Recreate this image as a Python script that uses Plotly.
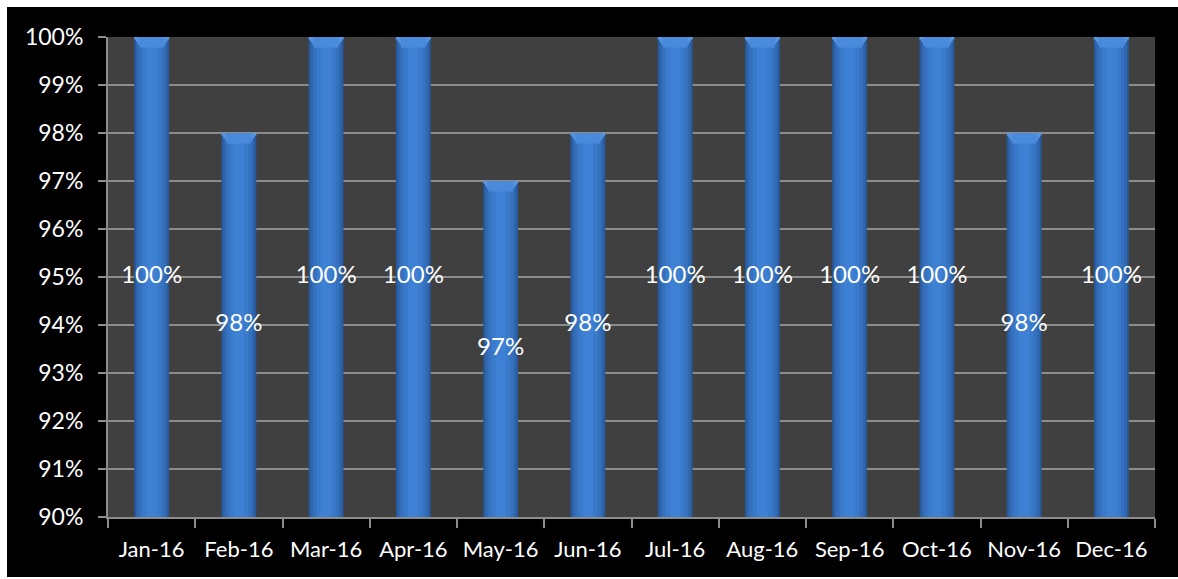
import plotly.graph_objects as go

months = ["Jan-16", "Feb-16", "Mar-16", "Apr-16", "May-16", "Jun-16",
          "Jul-16", "Aug-16", "Sep-16", "Oct-16", "Nov-16", "Dec-16"]
values = [100, 98, 100, 100, 97, 98, 100, 100, 100, 100, 98, 100]
y_ticks = list(range(90, 101))
y_tick_labels = [f"{t}%" for t in y_ticks]

Y_MIN, Y_MAX = 90, 100
FONT = "Lato"

fig = go.Figure()

# cylinder-like shading via overlaid bars of decreasing width
layers = [(0.40, "#27589a"), (0.36, "#2f66ae"), (0.30, "#3571bf"),
          (0.22, "#3a7aca"), (0.12, "#3e80d3")]
for w, c in layers:
    fig.add_trace(go.Bar(x=months, y=values, width=w, marker_color=c,
                         marker_line_width=0, hoverinfo="skip", showlegend=False))

# top bevel cap (stepped trapezoid)
for w, h, c in [(0.40, 0.05, "#5b9ae5"), (0.36, 0.10, "#5797e3"),
                (0.32, 0.16, "#5090df"), (0.28, 0.22, "#4a8adb")]:
    fig.add_trace(go.Bar(x=months, y=[h] * len(values),
                         base=[v - h for v in values], width=w,
                         marker_color=c, marker_line_width=0,
                         hoverinfo="skip", showlegend=False))

# value labels centred in each bar
fig.add_trace(go.Scatter(x=months, y=[(Y_MIN + v) / 2 for v in values],
                         mode="text", text=[f"{v}%" for v in values],
                         textfont=dict(family=FONT, size=24, color="white"),
                         hoverinfo="skip", showlegend=False))

fig.add_shape(type="rect", xref="paper", yref="paper",
              x0=0, x1=1, y0=0, y1=1,
              fillcolor="#404040", line_width=0, layer="below")

# figure placed at page offset (7, 7); plot area at page x 108..1155, y 37..517
fig.update_layout(
    width=1171, height=570,
    margin=dict(l=101, r=23, t=30, b=60, autoexpand=False),
    paper_bgcolor="black",
    plot_bgcolor="rgba(0,0,0,0)",
    barmode="overlay",
    showlegend=False,
    xaxis=dict(
        type="category", categoryorder="array", categoryarray=months,
        range=[-0.5, len(months) - 0.5],
        tickson="boundaries", ticks="outside", ticklen=9, tickwidth=2,
        tickcolor="#8c8c8c", showline=True, linecolor="#8c8c8c", linewidth=2,
        showgrid=False, tickfont=dict(family=FONT, size=22, color="white"),
        tickangle=0, automargin=False,
        ticklabelstandoff=12, fixedrange=True,
    ),
    yaxis=dict(
        range=[Y_MIN, Y_MAX], tickvals=y_ticks, ticktext=y_tick_labels,
        ticks="outside", ticklen=8, tickwidth=2, tickcolor="#8c8c8c",
        showline=True, linecolor="#8c8c8c", linewidth=2,
        showgrid=True, gridcolor="#8c8c8c", gridwidth=2,
        zeroline=False, tickfont=dict(family=FONT, size=23, color="white"),
        automargin=False,
        ticklabelstandoff=10, fixedrange=True,
    ),
)

fig.write_html("out.html",
               post_script="document.body.style.margin='7px 0 0 7px';")
